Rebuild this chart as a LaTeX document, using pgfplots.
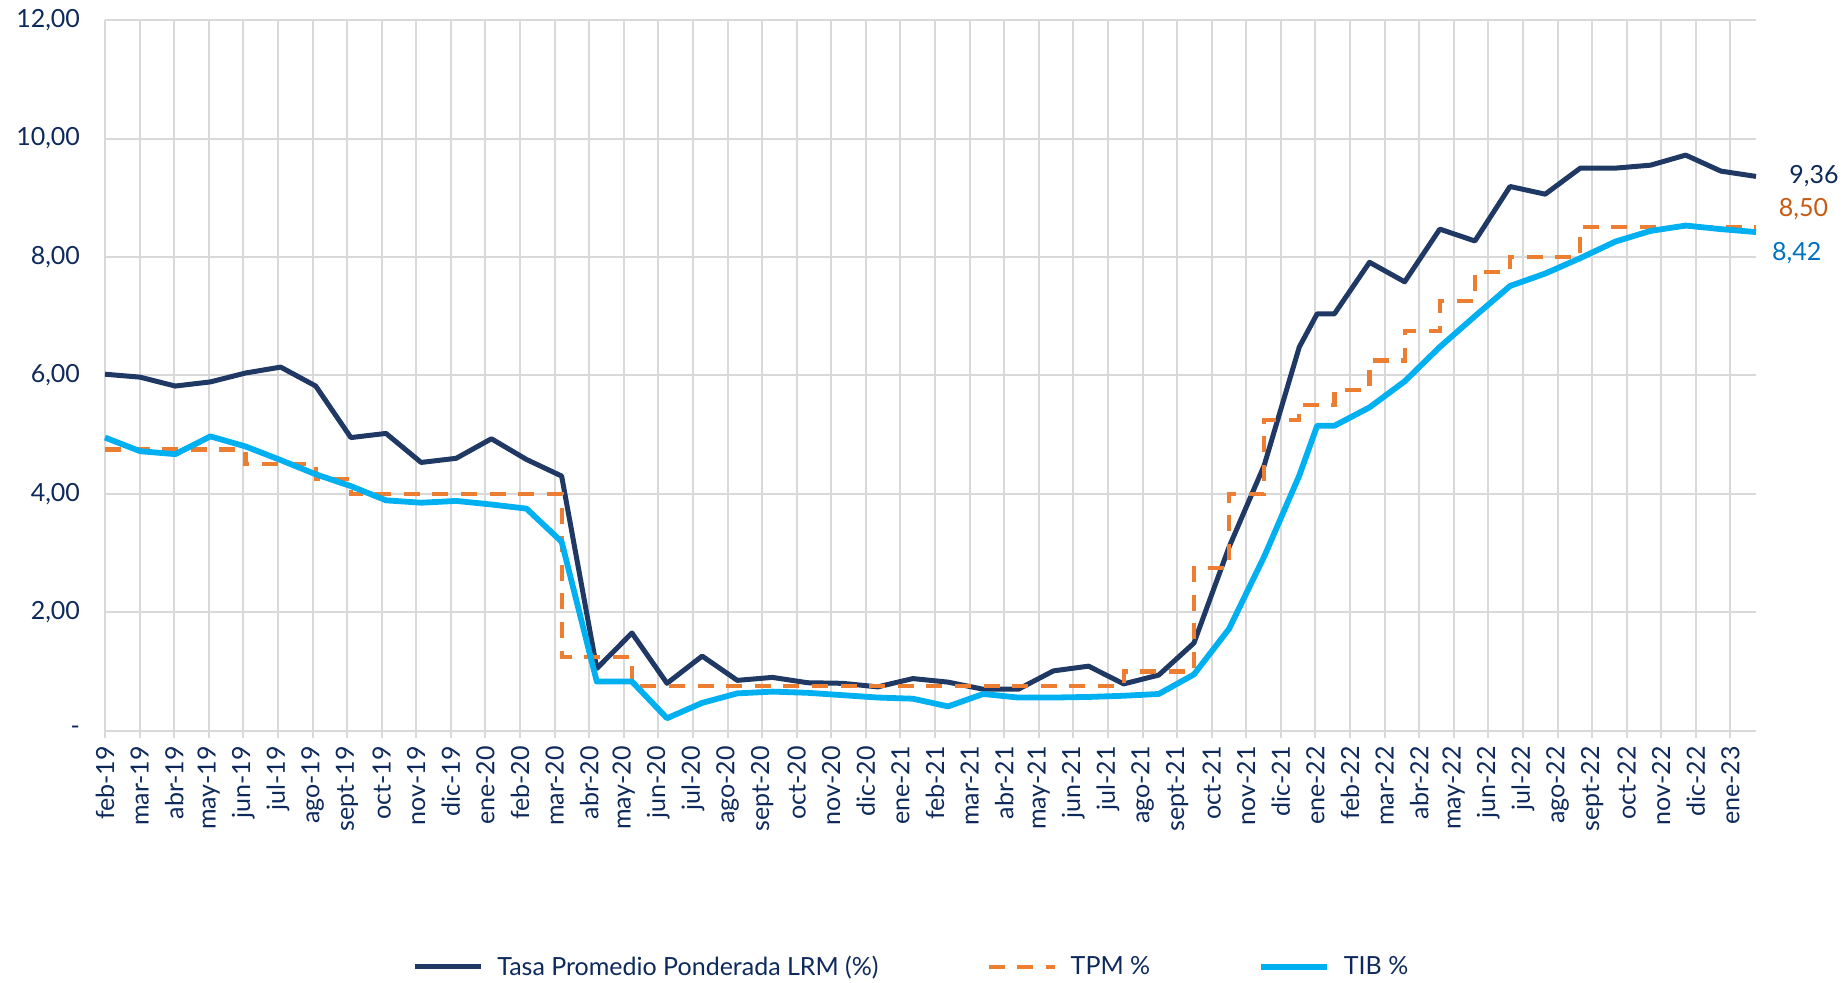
\documentclass[border=0pt]{standalone}
\usepackage{pgfplots}
\usepackage{pgfplotstable}
\usepackage{fontspec}
\setmainfont{Lato}
\pgfplotsset{compat=1.18}

\definecolor{navy}{HTML}{203864}
\definecolor{txtnavy}{HTML}{0E2A5C}
\definecolor{orng}{HTML}{ED7D31}
\definecolor{orngtxt}{HTML}{C55A11}
\definecolor{cyan2}{HTML}{00B0F0}
\definecolor{bluetxt}{HTML}{0070C0}
\definecolor{gridgray}{HTML}{D9D9D9}

% x in axis-tick units (labels every 30 days, data monthly)
\pgfplotstableread{
x      lrm   tpm   tib
0.000  6.02  4.75  4.95
1.016  5.97  4.75  4.72
2.031  5.82  4.75  4.67
3.047  5.89  4.75  4.97
4.063  6.04  4.50  4.80
5.079  6.14  4.50  4.57
6.094  5.82  4.25  4.33
7.110  4.95  4.00  4.13
8.126  5.02  4.00  3.89
9.141  4.53  4.00  3.85
10.157 4.60  4.00  3.88
11.173 4.93  4.00  3.82
12.188 4.58  4.00  3.75
13.204 4.30  1.25  3.19
14.220 1.05  1.25  0.83
15.236 1.65  0.75  0.83
16.251 0.80  0.75  0.21
17.267 1.26  0.75  0.47
18.283 0.85  0.75  0.63
19.298 0.90  0.75  0.66
20.314 0.81  0.75  0.64
21.330 0.80  0.75  0.60
22.345 0.74  0.75  0.56
23.361 0.88  0.75  0.54
24.377 0.82  0.75  0.41
25.393 0.70  0.75  0.62
26.408 0.70  0.75  0.56
27.424 1.01  0.75  0.56
28.440 1.09  0.75  0.57
29.455 0.79  1.00  0.59
30.471 0.94  1.00  0.62
31.487 1.48  2.75  0.95
32.502 3.10  4.00  1.72
33.518 4.48  5.25  2.94
34.534 6.48  5.50  4.31
35.050 7.04  5.50  5.15
35.550 7.04  5.75  5.15
36.565 7.91  6.25  5.46
37.581 7.58  6.75  5.90
38.597 8.47  7.25  6.48
39.612 8.27  7.75  7.00
40.628 9.19  8.00  7.51
41.644 9.06  8.00  7.72
42.659 9.50  8.50  7.98
43.675 9.50  8.50  8.26
44.691 9.55  8.50  8.44
45.707 9.72  8.50  8.53
46.722 9.45  8.50  8.47
47.740 9.36  8.50  8.42
}\datatable

\begin{document}
\begin{tikzpicture}[font=\fontsize{12.5}{14}\selectfont]
\path[use as bounding box] (-52.5pt,-126.15pt) rectangle (870pt,365.35pt);
\begin{axis}[
    at={(0,0)}, anchor=south west,
    scale only axis,
    width=825.5pt, height=355.3pt,
    xmin=0, xmax=47.74,
    ymin=0, ymax=12,
    axis line style={draw=none},
    grid=major,
    major grid style={gridgray, line width=1pt},
    xtick={0,...,47},
    xticklabels={feb-19,mar-19,abr-19,may-19,jun-19,jul-19,ago-19,sept-19,oct-19,nov-19,dic-19,ene-20,
      feb-20,mar-20,abr-20,may-20,jun-20,jul-20,ago-20,sept-20,oct-20,nov-20,dic-20,ene-21,
      feb-21,mar-21,abr-21,may-21,jun-21,jul-21,ago-21,sept-21,oct-21,nov-21,dic-21,ene-22,
      feb-22,mar-22,abr-22,may-22,jun-22,jul-22,ago-22,sept-22,oct-22,nov-22,dic-22,ene-23},
    xticklabel style={rotate=90, anchor=east, text=txtnavy, inner sep=1pt, inner xsep=4pt},
    xtick pos=left,
    xtick align=outside,
    x tick style={draw=gridgray, line width=1pt},
    major tick length=3.5pt,
    ytick={0,2,...,12},
    yticklabels={{-},{2,00},{4,00},{6,00},{8,00},{10,00},{12,00}},
    yticklabel style={text=txtnavy, xshift=-9pt},
    y tick style={draw=none},
    clip=false,
    legend columns=3,
    legend style={draw=none, fill=none, at={(0.489,-0.3325)}, anchor=center,
      text=txtnavy,
      /tikz/every odd column/.append style={column sep=5pt},
      /tikz/every even column/.append style={column sep=52pt}},
    legend cell align=left,
    legend image code/.code={\draw[#1] (0pt,0pt) -- (33pt,0pt);},
]
\addplot[navy, line width=2.5pt, line join=round] table[x=x, y=lrm] {\datatable};
\addlegendentry{Tasa Promedio Ponderada LRM (\%)}
\addplot[orng, line width=2.1pt, dash pattern=on 8pt off 6.3pt, const plot] table[x=x, y=tpm] {\datatable};
\addlegendentry{TPM \%}
\addplot[cyan2, line width=2.9pt, line join=round] table[x=x, y=tib] {\datatable};
\addlegendentry{TIB \%}

\node[anchor=west, text=txtnavy] at (axis cs:48.5,9.36) {9,36};
\node[anchor=west, text=orngtxt] at (axis cs:48.2,8.80) {8,50};
\node[anchor=west, text=bluetxt] at (axis cs:48.0,8.07) {8,42};
\end{axis}
\end{tikzpicture}
\end{document}
